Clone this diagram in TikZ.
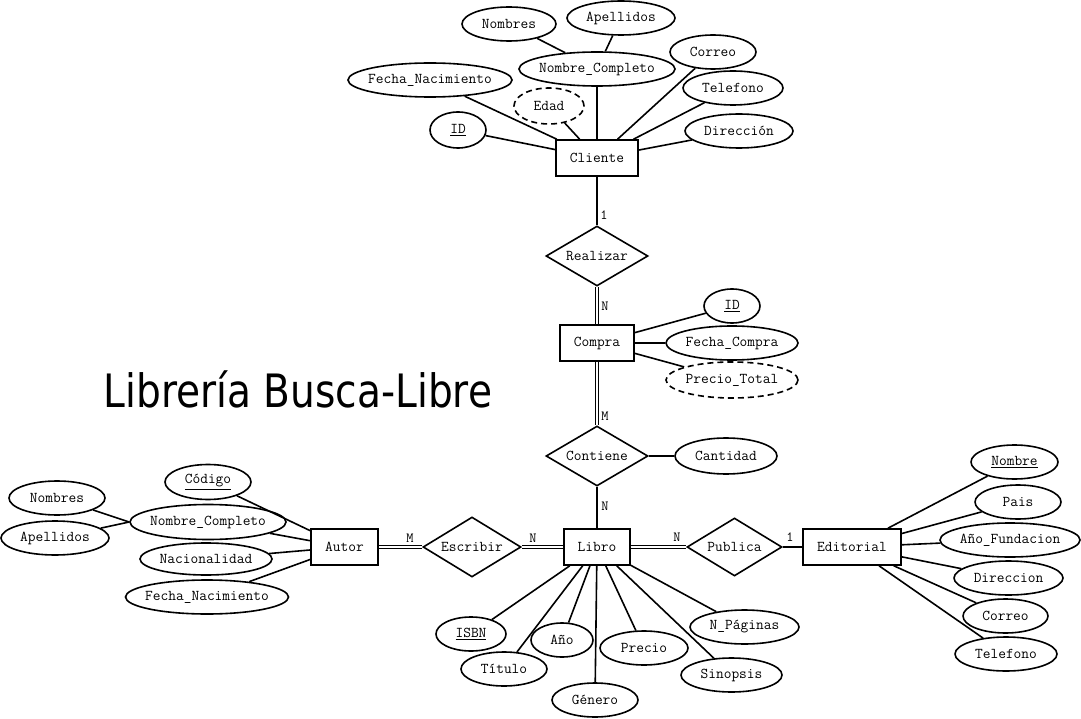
\documentclass[tikz,border=0pt]{standalone}
\usepackage{fontspec}
\newfontfamily\titlefont[FakeStretch=0.85]{DejaVu Sans}
\usetikzlibrary{shapes.geometric}

\begin{document}
\begin{tikzpicture}[x=1pt,y=-1pt,line width=1.6pt,
  every node/.style={font=\ttfamily\fontsize{15}{17}\selectfont},
  fixtext/.style={inner sep=0pt,execute at begin node={\hbox to 0pt\bgroup\hss},execute at end node={\hss\egroup}},
  entity/.style={draw,rectangle,minimum width=#1,minimum height=36,fixtext},
  attr/.style={draw,ellipse,minimum width=#1,minimum height=34,fixtext},
  derived/.style={attr=#1,dashed,dash pattern=on 6pt off 4pt},
  rel/.style={draw,diamond,minimum width=#1,minimum height=60,fixtext},
  card/.style={font=\ttfamily\fontsize{14}{16}\selectfont,inner sep=1pt},
  total/.style={double,double distance=2pt,line width=1.3pt}]
\useasboundingbox (0,0) rectangle (1081,719);

% entities and relations
\node[entity=82] (cliente) at (597,158) {Cliente};
\node[rel=102] (realizar) at (597,256) {Realizar};
\node[entity=74] (compra) at (597,343) {Compra};
\node[rel=102] (contiene) at (597,456) {Contiene};
\node[entity=66] (libro) at (597,547) {Libro};
\node[rel=98] (escribir) at (472,547) {Escribir};
\node[entity=67] (autor) at (344.5,547) {Autor};
\node[rel=95,minimum height=58] (publica) at (734.5,547) {Publica};
\node[entity=98] (editorial) at (852,547) {Editorial};

\node[font=\titlefont\fontsize{46}{50}\selectfont,inner sep=0pt] (titulo) at (298,389) {Librería Busca-Libre};

% cliente
\node[attr=156] (nombreCompC) at (597,69) {Nombre\_Completo};
\node[attr=94] (nombresC) at (509,24) {Nombres};
\node[attr=108] (apellidosC) at (621,18) {Apellidos};
\draw (nombresC) -- (nombreCompC);
\draw (apellidosC) -- (nombreCompC);
\node[derived=70,minimum height=36] (edad) at (549,106) {Edad};
\node[attr=56,minimum height=36] (idC) at (458,130) {\underline{ID}};
\foreach \n/\w/\x/\y/\t in {
  fechaC/164/430/80/Fecha\_Nacimiento,
  correoC/86/713/52/Correo,
  telefonoC/100/733/88/Telefono,
  direccionC/108/739/131/Dirección}{
  \node[attr=\w] (\n) at (\x,\y) {\t};
}
\foreach \n in {nombreCompC,edad,idC,fechaC,correoC,telefonoC,direccionC}
  \draw (\n) -- (cliente);

% compra
\node[attr=56] (idCompra) at (732,306) {\underline{ID}};
\node[attr=132] (fechaCompra) at (732,343) {Fecha\_Compra};
\node[derived=132,minimum height=36] (precioTotal) at (732,380) {Precio\_Total};
\foreach \n in {idCompra,fechaCompra,precioTotal}
  \draw (compra) -- (\n);
\node[attr=102,minimum height=36] (cantidad) at (726,456) {Cantidad};
\draw (contiene) -- (cantidad);

% autor
\node[attr=86,minimum height=35] (codigo) at (208,482) {\underline{Código}};
\node[attr=156,minimum height=35] (nombreCompA) at (208,522) {Nombre\_Completo};
\node[attr=132,minimum height=32] (nacionalidad) at (206,559) {Nacionalidad};
\node[attr=163] (fechaA) at (207,597) {Fecha\_Nacimiento};
\node[attr=96] (nombresA) at (57,498) {Nombres};
\node[attr=108] (apellidosA) at (55,538) {Apellidos};
\foreach \n in {codigo,nombreCompA,nacionalidad,fechaA}
  \draw (\n) -- (autor);
\draw (nombresA) -- (nombreCompA.west);
\draw (apellidosA) -- (nombreCompA.west);

% libro
\foreach \n/\w/\x/\y/\t in {
  isbn/70/471/634/\underline{ISBN},
  titulo/86/504/669/Título,
  anio/62/562/640/Año,
  genero/86/595/700/Género,
  precio/88/644/648/Precio,
  sinopsis/101/731.5/675/Sinopsis,
  paginas/109/744.5/627/N\_Páginas}{
  \node[attr=\w] (\n) at (\x,\y) {\t};
  \draw (\n) -- (libro);
}

% editorial
\foreach \n/\w/\x/\y/\t in {
  nombreE/87/1014.5/462/\underline{Nombre},
  pais/86/1018/502/Pais,
  fundacion/140/1010/540/Año\_Fundacion,
  direccionE/109/1008.5/578/Direccion,
  correoE/85/1005.5/616/Correo,
  telefonoE/102/1006/654/Telefono}{
  \node[attr=\w] (\n) at (\x,\y) {\t};
  \draw (\n) -- (editorial);
}

% relationships
\draw (cliente) -- (realizar);
\draw[total] (realizar) -- (compra);
\draw[total] (compra) -- (contiene);
\draw (contiene) -- (libro);
\draw[total] (libro) -- (escribir);
\draw[total] (escribir) -- (autor);
\draw[total] (libro) -- (publica);
\draw (publica) -- (editorial);

% cardinalities
\node[card] (card1) at (604,215) {1};
\node[card] (card2) at (605,306) {N};
\node[card] (card3) at (605,416) {M};
\node[card] (card4) at (605,506) {N};
\node[card] (card5) at (533,538) {N};
\node[card] (card6) at (410,538) {M};
\node[card] (card7) at (677,537) {N};
\node[card] (card8) at (790,537) {1};
\end{tikzpicture}
\end{document}
